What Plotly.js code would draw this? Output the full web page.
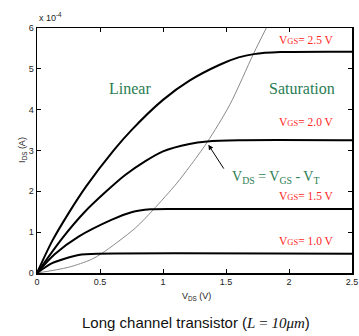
<!DOCTYPE html>
<html>
<head>
<meta charset="utf-8">
<script src="https://cdn.plot.ly/plotly-3.0.1.min.js"></script>
<style>html,body{margin:0;padding:0;background:#fff;}</style>
</head>
<body>
<div id="chart" style="width:359px;height:336px;"></div>
<script>
// I_DS values in units of 1e-4 A
const vds_25 = [0, 0.12, 0.25, 0.39, 0.61, 0.75, 1.0, 1.21, 1.45, 1.6, 1.72, 1.93, 2.5];
const ids_25 = [0, 0.78, 1.46, 2.12, 3.01, 3.5, 4.24, 4.71, 5.1, 5.28, 5.36, 5.41, 5.42];
const vds_20 = [0, 0.2, 0.38, 0.55, 0.7, 0.86, 1.0, 1.21, 1.35, 1.6, 2.5];
const ids_20 = [0, 0.85, 1.5, 2.0, 2.4, 2.74, 2.98, 3.16, 3.22, 3.25, 3.25];
const vds_15 = [0, 0.14, 0.33, 0.59, 0.75, 0.9, 1.1, 2.5];
const ids_15 = [0, 0.46, 0.89, 1.3, 1.49, 1.56, 1.57, 1.57];
const vds_10 = [0, 0.12, 0.25, 0.33, 0.48, 2.5];
const ids_10 = [0, 0.24, 0.38, 0.44, 0.47, 0.47];
const vds_sat = [0, 0.25, 0.43, 0.51, 0.78, 0.92, 1.11, 1.21, 1.35, 1.53, 1.72, 1.82];
const ids_sat = [0, 0.14, 0.33, 0.47, 1.1, 1.54, 2.2, 2.6, 3.2, 4.12, 5.38, 6.0];
const xTicks = [0, 0.5, 1, 1.5, 2, 2.5];
const xTickText = ['0', '0.5', '1', '1.5', '2', '2.5'];
const yTicks = [0, 1, 2, 3, 4, 5, 6];
const vgsLabels = ['2.5', '2.0', '1.5', '1.0'];
const vgsLabelY = [5.71, 3.70, 1.89, 0.78];

const curve = {color: '#000', width: 2, shape: 'spline', smoothing: 0.8};
const traces = [
  {x: vds_sat, y: ids_sat, mode: 'lines', line: {color: '#8a8a8a', width: 1, shape: 'spline', smoothing: 0.8}},
  {x: vds_25, y: ids_25, mode: 'lines', line: curve},
  {x: vds_20, y: ids_20, mode: 'lines', line: curve},
  {x: vds_15, y: ids_15, mode: 'lines', line: curve},
  {x: vds_10, y: ids_10, mode: 'lines', line: curve}
];

const green = '#2a7d52';
const red = '#ff2626';
const serif = 'Liberation Serif, DejaVu Serif, serif';
const sans = 'Liberation Sans, Arial, sans-serif';

const annotations = [
  {xref: 'paper', yref: 'paper', x: 0.0, y: 1.045, xanchor: 'left', yanchor: 'middle', showarrow: false,
   text: 'x 10<sup>-4</sup>', font: {family: sans, size: 9, color: '#222'}},
  {xref: 'paper', yref: 'paper', x: -0.048, y: 0.502, textangle: -90, xanchor: 'center', yanchor: 'middle', showarrow: false,
   text: 'I<sub>DS</sub> (A)', font: {family: sans, size: 9, color: '#222'}},
  {xref: 'paper', yref: 'paper', x: 0.505, y: -0.094, xanchor: 'center', yanchor: 'middle', showarrow: false,
   text: 'V<sub>DS</sub> (V)', font: {family: sans, size: 9, color: '#222'}},
  {xref: 'paper', yref: 'paper', x: 0.505, y: -0.204, xanchor: 'center', yanchor: 'middle', showarrow: false,
   text: 'Long channel transistor (<i style="font-family:Liberation Serif">L</i><span style="font-family:Liberation Serif"> = </span><i style="font-family:Liberation Serif">10μm</i>)',
   font: {family: sans, size: 15, color: '#111'}},
  {x: 0.74, y: 4.53, xanchor: 'center', yanchor: 'middle', showarrow: false,
   text: 'Linear', font: {family: serif, size: 16, color: green}},
  {x: 2.10, y: 4.53, xanchor: 'center', yanchor: 'middle', showarrow: false,
   text: 'Saturation', font: {family: serif, size: 16, color: green}},
  {x: 1.53, y: 2.33, xanchor: 'left', yanchor: 'middle', showarrow: false,
   text: 'V<sub>DS</sub> = V<sub>GS</sub> - V<sub>T</sub>', font: {family: serif, size: 14, color: green}},
  {x: 1.36, y: 3.14, ax: 1.49, ay: 2.52, axref: 'x', ayref: 'y', showarrow: true, arrowhead: 2, arrowsize: 1, arrowwidth: 1, arrowcolor: '#000', text: ''}
];
vgsLabels.forEach((v, i) => {
  annotations.push({x: 2.375, y: vgsLabelY[i], xanchor: 'right', yanchor: 'middle', showarrow: false,
    text: 'V<span style="font-size:8.5px">GS</span>= ' + v + ' V', font: {family: serif, size: 11.5, color: red}});
});

const axisCommon = {
  showgrid: false, zeroline: false, showline: true, linecolor: '#000', linewidth: 1.5,
  mirror: 'allticks', ticks: 'inside', ticklen: 4, tickcolor: '#000', tickwidth: 1,
  tickfont: {family: sans, size: 9, color: '#222'}
};

const layout = {
  width: 359, height: 336,
  margin: {l: 37, r: 7, t: 28, b: 63},
  paper_bgcolor: '#fff', plot_bgcolor: '#fff',
  showlegend: false,
  xaxis: Object.assign({range: [0, 2.5], tickvals: xTicks, ticktext: xTickText}, axisCommon),
  yaxis: Object.assign({range: [0, 6], tickvals: yTicks}, axisCommon),
  annotations: annotations
};

Plotly.newPlot('chart', traces, layout, {displayModeBar: false, staticPlot: true});
</script>
</body>
</html>
